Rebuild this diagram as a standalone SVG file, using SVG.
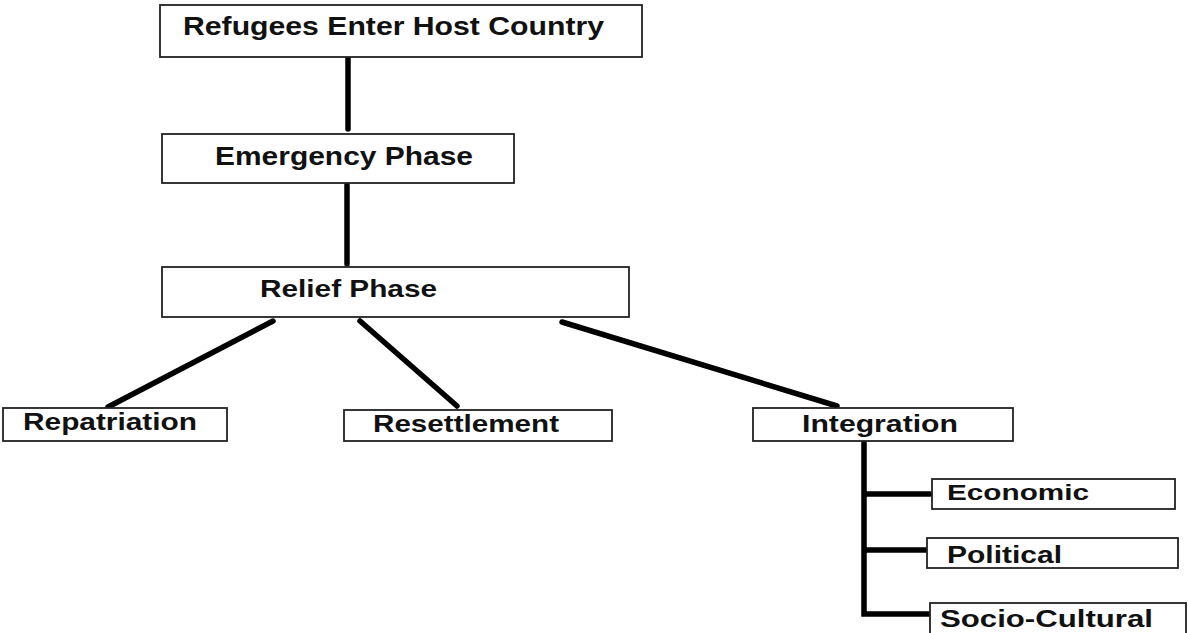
<svg xmlns="http://www.w3.org/2000/svg" width="1188" height="633" viewBox="0 0 1188 633">
<style>
.box{fill:#fff;stroke:#222;stroke-width:1.8}
.lbl{font-family:"Liberation Sans",Arial,sans-serif;font-weight:bold;fill:#111}
.con{stroke:#000;stroke-width:5.5;stroke-linecap:round;fill:none}
</style>
<rect width="1188" height="633" fill="#fff"/>
<g id="connectors">
<line class="con" x1="348" y1="58" x2="348" y2="129"/>
<line class="con" x1="347" y1="185" x2="347" y2="264"/>
<line class="con" x1="273" y1="321" x2="108" y2="407"/>
<line class="con" x1="360" y1="321" x2="457" y2="406"/>
<line class="con" x1="562" y1="322" x2="837" y2="406"/>
<path class="con" d="M864,443 V614 H930 M864,494 H930 M864,550 H926" stroke-linecap="butt"/>
</g>
<g id="refugees">
<rect class="box" x="160" y="5" width="482" height="52"/>
<text class="lbl" x="183" y="35" font-size="26" textLength="421" lengthAdjust="spacingAndGlyphs">Refugees Enter Host Country</text>
</g>
<g id="emergency">
<rect class="box" x="162" y="134" width="352" height="49"/>
<text class="lbl" x="215" y="165" font-size="25" textLength="258" lengthAdjust="spacingAndGlyphs">Emergency Phase</text>
</g>
<g id="relief">
<rect class="box" x="162" y="267" width="467" height="50"/>
<text class="lbl" x="260" y="297" font-size="24" textLength="177" lengthAdjust="spacingAndGlyphs">Relief Phase</text>
</g>
<g id="repatriation">
<rect class="box" x="3" y="408" width="224" height="33"/>
<text class="lbl" x="23" y="430" font-size="24" textLength="174" lengthAdjust="spacingAndGlyphs">Repatriation</text>
</g>
<g id="resettlement">
<rect class="box" x="344" y="410" width="268" height="31"/>
<text class="lbl" x="373" y="432" font-size="24" textLength="186" lengthAdjust="spacingAndGlyphs">Resettlement</text>
</g>
<g id="integration">
<rect class="box" x="753" y="408" width="260" height="33"/>
<text class="lbl" x="802" y="432" font-size="24" textLength="156" lengthAdjust="spacingAndGlyphs">Integration</text>
</g>
<g id="economic">
<rect class="box" x="932" y="479" width="243" height="30"/>
<text class="lbl" x="947" y="500" font-size="22" textLength="142" lengthAdjust="spacingAndGlyphs">Economic</text>
</g>
<g id="political">
<rect class="box" x="927" y="538" width="251" height="30"/>
<text class="lbl" x="947" y="563" font-size="23" textLength="115" lengthAdjust="spacingAndGlyphs">Political</text>
</g>
<g id="socio-cultural">
<rect class="box" x="930" y="603" width="256" height="34"/>
<text class="lbl" x="940" y="627" font-size="24" textLength="213" lengthAdjust="spacingAndGlyphs">Socio-Cultural</text>
</g>
</svg>
